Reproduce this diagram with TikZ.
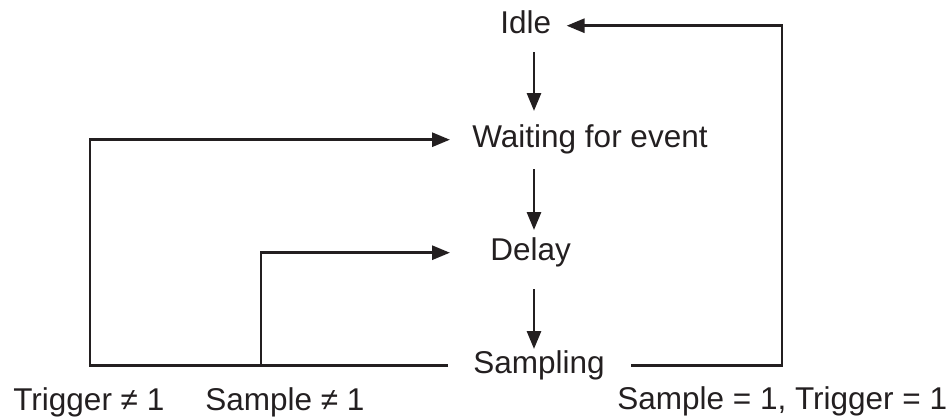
\documentclass[tikz,border=0pt]{standalone}
\usepackage{fontspec}
\setmainfont{Liberation Sans}
\usepackage{xcolor}
\usepackage{tikz}
\usetikzlibrary{arrows.meta,calc}
\definecolor{chartink}{HTML}{231F20}
\tikzset{
  state/.style={inner sep=0pt,anchor=base west,text height=0.73em,text depth=0pt,
    text=chartink},
  cond/.style={inner sep=0pt,anchor=base west,text=chartink},
  flow/.style={-{Triangle[length=9pt,width=7pt]},line width=1.45pt,draw=chartink}
}

\begin{document}
\begin{tikzpicture}[x=0.5pt,y=-0.5pt,font=\fontsize{15.75pt}{19pt}\selectfont]
  \useasboundingbox (0,0) rectangle (950,419);
  % states
  \node[state] (idle) at (500,33) {Idle};
  \node[state] (wait) at (472,147) {Waiting for event};
  \node[state] (delay) at (490,260) {Delay};
  \node[state] (samp) at (473,373) {Sampling};
  % conditions
  \node[cond] (trigne) at (13,410) {Trigger ≠ 1};
  \node[cond] (sampne) at (205,410) {Sample ≠ 1};
  \node[cond] (sampeq) at (617,409) {Sample = 1, Trigger = 1};
  % columns of the connectors
  \coordinate (mid) at (534,0);
  \coordinate (outer) at (90,0);
  \coordinate (inner) at (261,0);
  \coordinate (back) at (782,0);
  % main sequence
  \draw[flow,shorten <=9.5pt,shorten >=10.5pt] (idle.south -| mid) -- (wait.north -| mid);
  \draw[flow,shorten <=11pt,shorten >=7.5pt] (wait.south -| mid) -- (delay.north -| mid);
  \draw[flow,shorten <=14.5pt,shorten >=4.5pt] (delay.south -| mid) -- (samp.north -| mid);
  % loops
  \draw[flow,shorten <=13pt,shorten >=7.5pt] (samp.east) -| (back |- idle.east) -- (idle.east);
  \draw[flow,shorten <=12.5pt,shorten >=11pt] (samp.west) -| (outer |- wait.west) -- (wait.west);
  \draw[flow,shorten >=20pt] (inner |- samp.west) |- (delay.west);
\end{tikzpicture}
\end{document}
